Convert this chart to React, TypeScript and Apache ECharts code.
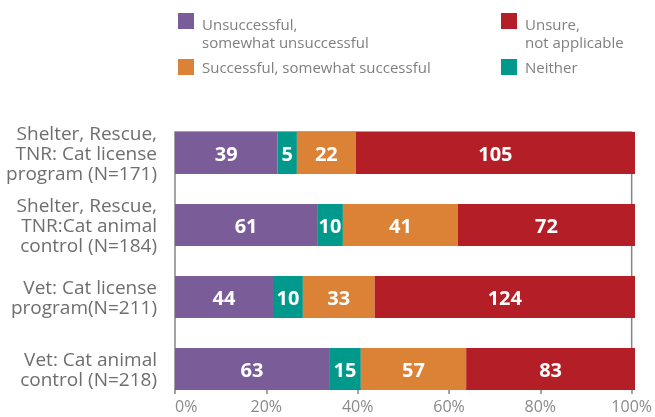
import React, { useEffect, useRef } from "react";
import * as echarts from "echarts";

const categories = [
  "Shelter, Rescue,\nTNR: Cat license\nprogram (N=171)",
  "Shelter, Rescue,\nTNR:Cat animal\ncontrol (N=184)",
  "Vet: Cat license\nprogram(N=211)",
  "Vet: Cat animal\ncontrol (N=218)",
];
// Counts shown as labels
const unsuccessfulCount = [39, 61, 44, 63];
const neitherCount = [5, 10, 10, 15];
const successfulCount = [22, 41, 33, 57];
const unsureCount = [105, 72, 124, 83];
// Bar lengths (percent of row) as drawn in the reference
const unsuccessfulPct = [22.3, 30.9, 21.3, 33.5];
const neitherPct = [4.2, 5.6, 6.5, 6.9];
const successfulPct = [12.8, 25.0, 15.6, 22.9];
const unsurePct = [60.7, 38.5, 56.6, 36.7];
const xTickStep = 20;

const seriesNames = {
  unsuccessful: "Unsuccessful,\nsomewhat unsuccessful",
  neither: "Neither",
  successful: "Successful, somewhat successful",
  unsure: "Unsure,\nnot applicable",
};

const FONT = "'Open Sans', 'Noto Sans', sans-serif";

export default function App() {
  const ref = useRef<HTMLDivElement>(null);
  useEffect(() => {
    if (!ref.current) return;
    const chart = echarts.init(ref.current, undefined, { renderer: "svg" });
    const defs = [
      { name: seriesNames.unsuccessful, pct: unsuccessfulPct, count: unsuccessfulCount, color: "#7A5C99" },
      { name: seriesNames.neither, pct: neitherPct, count: neitherCount, color: "#00998C" },
      { name: seriesNames.successful, pct: successfulPct, count: successfulCount, color: "#DC8237" },
      { name: seriesNames.unsure, pct: unsurePct, count: unsureCount, color: "#B41E26" },
    ];
    const legendColor = "#7f7f7f";
    const legendText = {
      fontFamily: FONT,
      fontSize: 15,
      lineHeight: 18,
      color: legendColor,
      padding: [0, 0, 0, 3],
    };
    const singleBase = {
      orient: "horizontal",
      itemWidth: 16,
      itemHeight: 16,
      padding: 0,
      icon: "rect",
      selectedMode: false,
      textStyle: legendText,
    };
    // square sits at the top of a taller icon box so the 2-line text starts level with it
    const multiBase = {
      ...singleBase,
      itemHeight: 40,
      icon: "path://M0,0H16V16H0Z M0,40H0.01V40H0Z",
    };
    chart.setOption({
      animation: false,
      legend: [
        { ...multiBase, data: [seriesNames.unsuccessful], left: 178, top: 13 },
        { ...multiBase, data: [seriesNames.unsure], left: 501, top: 13 },
        { ...singleBase, data: [seriesNames.successful], left: 178, top: 58 },
        { ...singleBase, data: [seriesNames.neither], left: 501, top: 58 },
      ],
      grid: [
        {
          left: 175,
          right: 20,
          top: 132,
          height: 257,
          show: true,
          borderColor: "#858585",
          borderWidth: 1.5,
        },
        { left: 175, right: 20, top: 117, height: 288 },
      ],
      xAxis: [
        {
          gridIndex: 0,
          type: "value",
          min: 0,
          max: 100,
          interval: xTickStep,
          axisLine: { show: true, lineStyle: { color: "#858585", width: 1.5 } },
          axisTick: { show: true, length: 5, lineStyle: { color: "#858585", width: 1.5 } },
          splitLine: { show: false },
          axisLabel: {
            formatter: "{value}%",
            fontFamily: FONT,
            fontSize: 16,
            lineHeight: 16,
            color: "#8a8a8a",
            margin: 9,
            alignMinLabel: "left",
          },
        },
        {
          gridIndex: 1,
          type: "value",
          min: 0,
          max: 100,
          show: false,
        },
      ],
      yAxis: [
        { gridIndex: 0, type: "value", show: false },
        {
          gridIndex: 1,
          type: "category",
          inverse: true,
          data: categories,
          axisLine: { show: false },
          axisTick: { show: false },
          axisLabel: {
            fontFamily: FONT,
            fontSize: 19,
            lineHeight: 20,
            color: "#6e6e6e",
            margin: 18,
            align: "right",
          },
        },
      ],
      series: defs.map((d) => ({
        name: d.name,
        type: "bar",
        stack: "total",
        xAxisIndex: 1,
        yAxisIndex: 1,
        barWidth: 42,
        itemStyle: { color: d.color },
        data: d.pct.map((v, i) => ({ value: v, count: d.count[i] })),
        label: {
          show: true,
          position: "inside",
          formatter: (p: any) => String(p.data.count),
          color: "#ffffff",
          fontWeight: "bold",
          fontSize: 20,
          fontFamily: FONT,
        },
      })),
    });
    return () => chart.dispose();
  }, []);
  return (
    <div
      ref={ref}
      style={{ position: "fixed", left: 0, top: 0, width: 655, height: 417 }}
    />
  );
}
